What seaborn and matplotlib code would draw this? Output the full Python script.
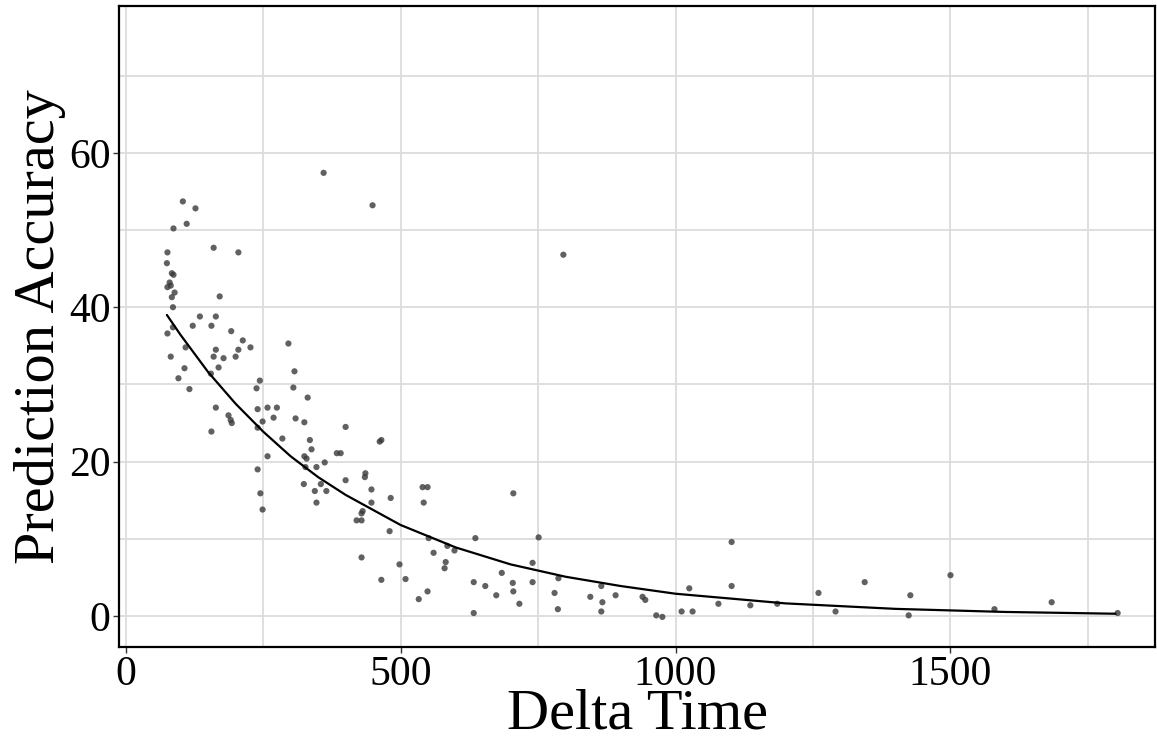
import matplotlib
matplotlib.use('Agg')
import matplotlib.pyplot as plt
from matplotlib.ticker import MultipleLocator
import seaborn as sns
import pandas as pd

# scatter data
delta_time = [360, 449, 104, 127, 111, 87, 76, 160, 205, 75, 84, 87, 80, 76, 82, 89, 84, 86,
              171, 135, 164, 122, 156, 86, 76, 192, 213, 227, 164, 205, 160, 178, 200, 82,
              109, 296, 107, 169, 155, 96, 307, 244, 238, 116, 305, 331,
              164, 156, 187, 193, 191, 240, 258, 275, 269, 249, 240, 285, 309, 325, 400,
              335, 338, 462, 465, 384, 391, 325, 329, 240, 258, 347, 362, 327, 436, 435, 400,
              324, 355, 344, 365, 347, 245, 249, 447, 447, 431, 429, 420, 429, 482, 480,
              540, 549, 542, 429, 465, 498, 509, 533, 549, 560, 582, 580, 551, 585, 598,
              636, 633, 633, 654, 684, 674, 704, 705, 716, 705, 740, 751, 740,
              780, 787, 786, 845, 865, 867, 865, 891, 940, 945, 965, 976, 1011, 1031,
              1025, 1078, 1102, 1102, 1136, 1185, 1260, 1291, 1344,
              1427, 1424, 1500, 1580, 1684, 1804, 796]
accuracy = [57.4, 53.2, 53.7, 52.8, 50.8, 50.2, 47.1, 47.7, 47.1, 45.7, 44.4, 44.2, 43.2, 42.6,
            42.8, 41.9, 41.3, 40.0,
            41.4, 38.8, 38.8, 37.6, 37.6, 37.4, 36.6, 36.9, 35.7, 34.8, 34.5, 34.5, 33.6, 33.4,
            33.6, 33.6, 34.8, 35.3, 32.1, 32.2, 31.4, 30.8, 31.7, 30.5, 29.5, 29.4, 29.6, 28.3,
            27.0, 23.9, 26.0, 25.0, 25.4, 26.8, 27.0, 27.0, 25.7, 25.2, 24.4, 23.0, 25.6, 25.1,
            24.5, 22.8, 21.6, 22.6, 22.8, 21.1, 21.1, 20.7, 20.4, 19.0, 20.7, 19.3, 19.9, 19.3,
            18.5, 18.0, 17.6, 17.1, 17.1, 16.2, 16.2, 14.7, 15.9, 13.8, 16.4, 14.7, 13.6, 13.3,
            12.4, 12.4, 15.3, 11.0,
            16.7, 16.7, 14.7, 7.6, 4.7, 6.7, 4.8, 2.2, 3.2, 8.2, 7.0, 6.2, 10.1, 9.1, 8.5,
            10.1, 4.4, 0.4, 3.9, 5.6, 2.7, 4.3, 3.2, 1.6, 15.9, 6.9, 10.2, 4.4,
            3.0, 4.9, 0.9, 2.5, 3.9, 1.8, 0.6, 2.7, 2.5, 2.1, 0.1, -0.1, 0.6, 0.6,
            3.6, 1.6, 9.6, 3.9, 1.4, 1.6, 3.0, 0.6, 4.4,
            2.7, 0.1, 5.3, 0.9, 1.8, 0.4, 46.8]

# fitted decay curve
curve_time = [75, 100, 150, 200, 250, 300, 350, 400, 500, 600, 700, 800, 900, 1000,
              1200, 1400, 1600, 1800]
curve_acc = [39.0, 36.4, 31.6, 27.5, 23.9, 20.7, 18.0, 15.7, 11.8, 8.9, 6.7, 5.1, 3.9, 2.9,
             1.65, 0.94, 0.54, 0.31]

df = pd.DataFrame({'Delta Time': delta_time, 'Prediction Accuracy': accuracy})
fit = pd.DataFrame({'Delta Time': curve_time, 'Prediction Accuracy': curve_acc})

sns.set_theme(style='whitegrid')
plt.rcParams['font.family'] = ['Liberation Serif', 'DejaVu Serif']

fig = plt.figure(figsize=(11.57, 7.36), dpi=100)
ax = fig.add_axes([0.1029, 0.1209, 0.8954, 0.8709])

sns.scatterplot(data=df, x='Delta Time', y='Prediction Accuracy', ax=ax,
                color='#3a3a3a', alpha=0.8, s=20, edgecolor='none', zorder=3)
sns.lineplot(data=fit, x='Delta Time', y='Prediction Accuracy', ax=ax,
             color='black', linewidth=1.6, zorder=4)

ax.set_xlim(-12, 1872)
ax.set_ylim(-4, 79)
ax.xaxis.set_major_locator(MultipleLocator(500))
ax.xaxis.set_minor_locator(MultipleLocator(250))
ax.yaxis.set_major_locator(MultipleLocator(20))
ax.yaxis.set_minor_locator(MultipleLocator(10))
ax.grid(which='both', color='#dcdcdc', linewidth=1.3)
ax.set_axisbelow(True)

for sp in ax.spines.values():
    sp.set_color('black')
    sp.set_linewidth(1.6)

ax.tick_params(which='major', length=4, width=1, color='#333333', labelsize=30,
               labelcolor='black', pad=2, bottom=True, left=True)
ax.tick_params(which='minor', length=0)
ax.set_xlabel('Delta Time', fontsize=42, labelpad=-4, color='black')
ax.set_ylabel('Prediction Accuracy', fontsize=42, labelpad=2, color='black')

fig.savefig('out.png', dpi=100, facecolor='white')
